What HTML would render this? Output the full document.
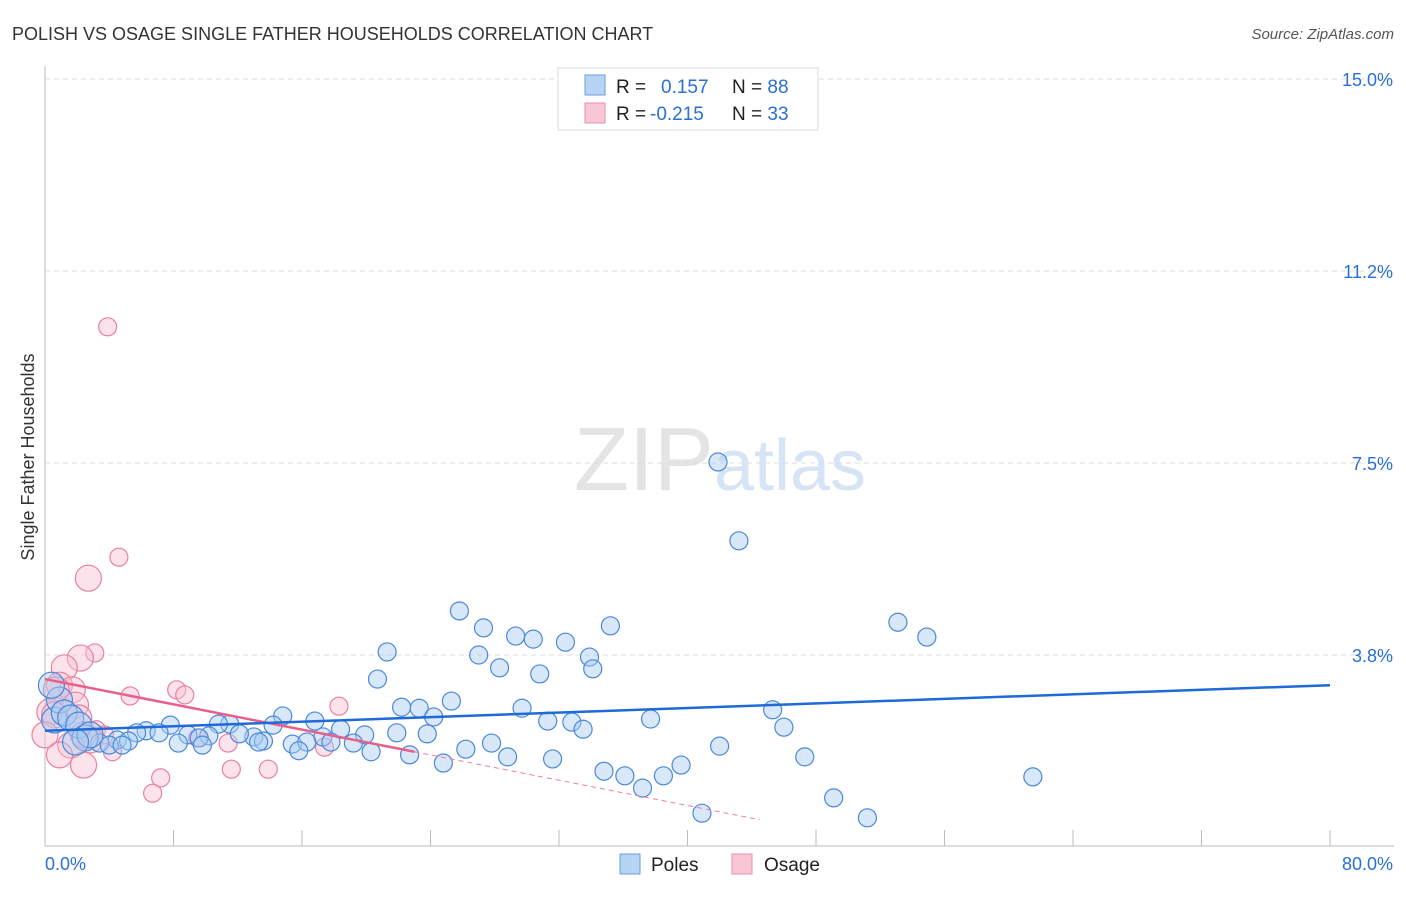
<!DOCTYPE html>
<html><head><meta charset="utf-8"><style>
body{margin:0;background:#fff;font-family:"Liberation Sans",sans-serif;}
svg text{font-family:"Liberation Sans",sans-serif;}
</style></head><body>
<svg id="chart" width="1406" height="892">
<text x="12" y="40" font-size="18" fill="#333">POLISH VS OSAGE SINGLE FATHER HOUSEHOLDS CORRELATION CHART</text>
<text x="1394" y="39" font-size="15" fill="#555" font-style="italic" text-anchor="end">Source: ZipAtlas.com</text>
<text transform="translate(34,457) rotate(-90)" font-size="18" fill="#333" text-anchor="middle">Single Father Households</text>
<text x="720" y="490" font-size="90" fill="#e4e4e4" text-anchor="middle" font-family="Liberation Serif">ZIP<tspan fill="#d6e4f5" font-family="Liberation Sans" font-size="72">atlas</tspan></text>
<g id="grid"></g><g id="axes"></g><g id="marks"></g>
<g>
<rect x="558" y="68" width="260" height="62" fill="#fff" stroke="#ddd"/>
<rect x="585" y="75" width="20" height="20" fill="#b8d4f5" stroke="#6a9ee0"/>
<rect x="585" y="103" width="20" height="20" fill="#f9c6d6" stroke="#e890aa"/>
<text x="616" y="93" font-size="19" fill="#222">R = <tspan fill="#2a6fd6" x="661">0.157</tspan><tspan fill="#222" x="732">N = </tspan><tspan fill="#2a6fd6">88</tspan></text>
<text x="616" y="120" font-size="19" fill="#222">R = <tspan fill="#2a6fd6" x="650">-0.215</tspan><tspan fill="#222" x="732">N = </tspan><tspan fill="#2a6fd6">33</tspan></text>
</g>
<g>
<rect x="620" y="854" width="20" height="20" fill="#b8d4f5" stroke="#6a9ee0"/>
<text x="651" y="871" font-size="19" fill="#222">Poles</text>
<rect x="732" y="854" width="20" height="20" fill="#f9c6d6" stroke="#e890aa"/>
<text x="764" y="871" font-size="19" fill="#222">Osage</text>
</g>
</svg>
<script>
const blueX=[41.9,43.2,25.8,53.1,54.9,35.2,27.3,29.3,30.4,32.4,21.3,27.0,33.9,28.3,34.1,30.8,20.7,25.3,22.2,23.3,29.7,24.2,45.3,37.7,31.3,32.8,33.5,46.0,14.8,16.8,11.5,10.8,14.2,7.8,6.3,7.1,5.7,8.9,18.4,19.9,17.3,21.9,23.8,10.2,13.0,12.1,9.6,4.5,5.2,3.4,4.0,8.3,9.8,13.6,13.3,15.4,16.3,17.8,19.2,20.3,15.8,22.7,26.2,27.8,28.8,31.6,42.0,47.3,24.8,34.8,36.1,38.5,39.6,37.2,61.5,49.1,51.2,40.9,0.6,0.9,0.4,1.2,1.6,2.1,2.5,2.8,1.9,4.8];
const blueY=[7.52,5.98,4.61,4.39,4.10,4.32,4.28,4.12,4.06,4.00,3.81,3.75,3.71,3.50,3.48,3.38,3.28,2.85,2.73,2.71,2.71,2.54,2.68,2.50,2.46,2.44,2.30,2.34,2.56,2.46,2.40,2.40,2.38,2.38,2.27,2.23,2.23,2.19,2.30,2.19,2.15,2.23,2.21,2.17,2.15,2.21,2.13,2.09,2.07,2.03,1.99,2.03,1.99,2.07,2.05,2.01,2.05,2.05,2.03,1.86,1.88,1.80,1.91,2.03,1.76,1.72,1.97,1.76,1.64,1.48,1.39,1.39,1.60,1.15,1.37,0.96,0.57,0.66,2.48,2.87,3.16,2.62,2.52,2.38,2.13,2.19,2.05,1.99];
const pinkX=[3.9,4.6,2.7,3.1,2.2,1.2,0.9,1.7,0.7,5.3,8.2,8.7,18.3,1.9,0.3,0.6,2.1,3.2,3.7,2.8,1.6,2.4,4.2,7.2,6.7,11.6,13.9,11.4,17.4,9.5,0.9,0.0,2.4];
const pinkY=[10.16,5.66,5.25,3.79,3.69,3.50,3.16,3.07,3.07,2.95,3.07,2.97,2.75,2.77,2.64,2.58,2.52,2.29,2.19,2.09,1.99,1.60,1.86,1.35,1.05,1.52,1.52,2.03,1.95,2.13,1.80,2.19,2.19];
const yTicks=[3.75,7.5,11.25,15];
const yTickLabels=["3.8%","7.5%","11.2%","15.0%"];
const xTicks=[0,8,16,24,32,40,48,56,64,72,80];
const blueFit=[2.27,3.16];
const pinkFit=[3.28,1.86];
const pinkFitEnd=23;
const pinkDashEnd=44.5;
const NS="http://www.w3.org/2000/svg";
const sx=v=>45+v*(1285/80);
const sy=v=>847-v*51.2;
function mk(parent,tag,attrs){const e=document.createElementNS(NS,tag);for(const k in attrs)e.setAttribute(k,attrs[k]);document.getElementById(parent).appendChild(e);return e;}
yTicks.forEach((t,i)=>{
 const l=mk('grid','line',{x1:45,x2:1394,y1:sy(t),y2:sy(t),stroke:'#ddd','stroke-dasharray':'5,4'});
 
 
 const tx=mk('axes','text',{x:1393,y:sy(t)+7,'font-size':18,fill:'#2a6fd6','text-anchor':'end'});
 tx.textContent=yTickLabels[i];
 
 
});
const ax=mk('axes','line',{x1:45,x2:1394,y1:846,y2:846,stroke:'#bbb'});


const ay=mk('axes','line',{x1:45,x2:45,y1:66,y2:846,stroke:'#bbb'});


xTicks.forEach(t=>{
 const l=mk('axes','line',{x1:sx(t),x2:sx(t),y1:830,y2:846,stroke:'#bbb'});
 
 
});
const x0=mk('axes','text',{x:45,y:870,'font-size':18,fill:'#2a6fd6'});
x0.textContent=xTicks[0].toFixed(1)+'%';


const x1=mk('axes','text',{x:1393,y:870,'font-size':18,fill:'#2a6fd6','text-anchor':'end'});
x1.textContent=xTicks[xTicks.length-1].toFixed(1)+'%';


function pts(X,Y,fill,stroke,name){
 X.forEach((x,i)=>{
  const r=(x<3)?13:9;
  const c=mk('marks','circle',{cx:sx(x),cy:sy(Y[i]),r:r,fill:fill,'fill-opacity':0.45,stroke:stroke,'stroke-width':1.2});
  
  
 });
}
pts(pinkX,pinkY,'#f9c0d2','#e8809e','osage-point');
pts(blueX,blueY,'#a9cbf2','#4a88dc','poles-point');
const slope=(pinkFit[1]-pinkFit[0])/pinkFitEnd;
const pd=mk('marks','line',{x1:sx(pinkFitEnd),y1:sy(pinkFit[1]),x2:sx(pinkDashEnd),y2:sy(pinkFit[0]+slope*pinkDashEnd),stroke:'#e8809e','stroke-dasharray':'5,4'});


const pl=mk('marks','line',{x1:sx(0),y1:sy(pinkFit[0]),x2:sx(pinkFitEnd),y2:sy(pinkFit[1]),stroke:'#e8608a','stroke-width':2.5});


const bl=mk('marks','line',{x1:sx(0),y1:sy(blueFit[0]),x2:sx(80),y2:sy(blueFit[1]),stroke:'#1f6ad6','stroke-width':2.5});


</script>
</body></html>
